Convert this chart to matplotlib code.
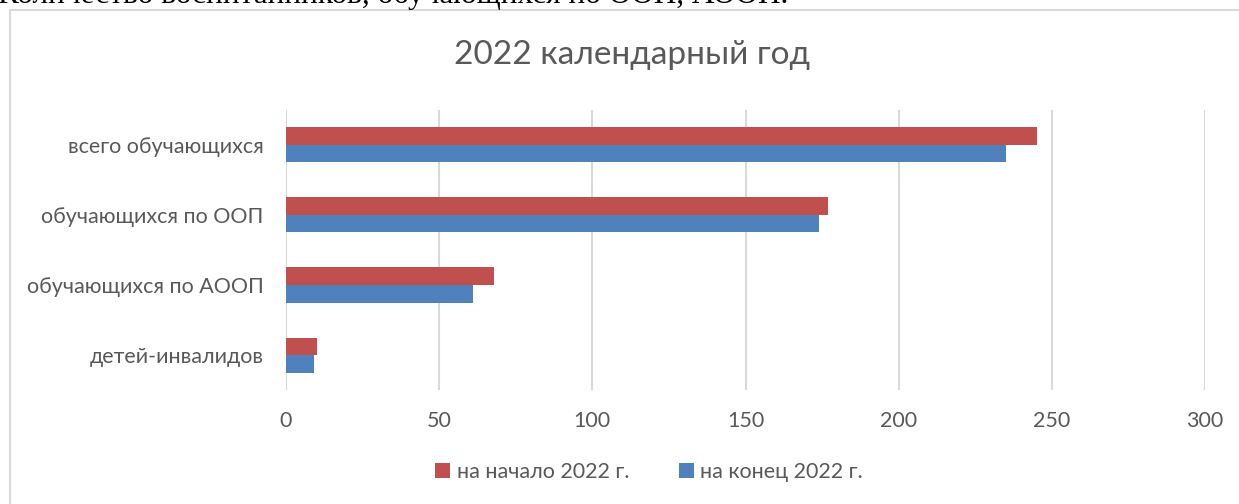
import numpy as np
import matplotlib.pyplot as plt
from matplotlib.patches import Rectangle

categories = ["детей-инвалидов", "обучающихся по АООП", "обучающихся по ООП", "всего обучающихся"]
start_2022 = [10, 68, 177, 245]
end_2022 = [9, 61, 174, 235]
xticks = [0, 50, 100, 150, 200, 250, 300]

plt.rcParams['font.family'] = ['Lato', 'DejaVu Sans']

fig = plt.figure(figsize=(12.39, 5.04), dpi=100)
ax = fig.add_axes([0.2308, 0.226, 0.7418, 0.556])

y = np.arange(len(categories))
h = 0.25
ax.barh(y + h / 2, start_2022, height=h, color="#C0504D", label="на начало 2022 г.")
ax.barh(y - h / 2, end_2022, height=h, color="#4F81BD", label="на конец 2022 г.")

ax.set_xlim(0, 300)
ax.set_ylim(-0.5, 3.5)
ax.set_xticks(xticks)
ax.set_yticks(y)
ax.set_yticklabels(categories)
ax.tick_params(length=0, labelsize=15.5, colors="#595959")
ax.tick_params(axis="x", pad=15)
ax.tick_params(axis="y", pad=16)
ax.grid(axis="x", color="#d9d9d9", linewidth=1.5)
ax.set_axisbelow(True)
for s in ax.spines.values():
    s.set_visible(False)

fig.text(0.51, 0.89, "2022 календарный год", ha="center", va="center",
         fontsize=24, color="#595959")

leg = fig.legend(loc="center", bbox_to_anchor=(0.524, 0.063), ncol=2, frameon=False,
                 fontsize=15.5, handlelength=0.7, handleheight=0.7, handletextpad=0.3,
                 columnspacing=2.3, labelcolor="#595959")

# рамка диаграммы и обрезанная строка текста над ней
fig.patches.append(Rectangle((10 / 1239, -0.1), 1.2, 1 - 10 / 504 + 0.1,
                             transform=fig.transFigure, fill=False,
                             edgecolor="#d9d9d9", linewidth=1.5))
fig.text(-0.002, 1 - 3 / 504, "Количество воспитанников, обучающихся по ООП, АООП.",
         family="Liberation Serif", fontsize=22.5, color="black", va="baseline")

plt.savefig("out.png", dpi=100)
